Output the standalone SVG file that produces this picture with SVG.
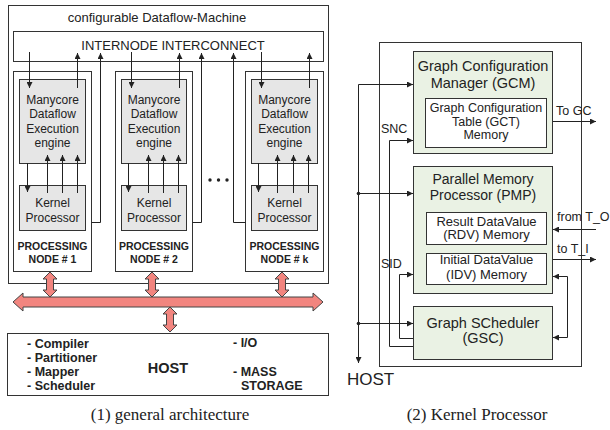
<svg xmlns="http://www.w3.org/2000/svg" width="610" height="430" viewBox="0 0 610 430">
<defs>
<style>
text { font-family: "Liberation Sans", Arial, sans-serif; fill: #222; }
.s12 { font-size: 12px; }
.s125 { font-size: 12.5px; }
.s13 { font-size: 13px; }
.s145 { font-size: 14.5px; }
.b { font-weight: bold; }
.m { text-anchor: middle; }
.cap { font-family: "Liberation Serif", "Times New Roman", serif; font-size: 17px; }
.ln { stroke: #222; stroke-width: 1; fill: none; }
.arr { marker-end: url(#ah); }
.box { fill: #fff; stroke: #333; stroke-width: 1; }
.grey { fill: #e6e6e6; stroke: #333; stroke-width: 1; }
.green { fill: #eaf2e4; stroke: #333; stroke-width: 1; }
.red { fill: #f2857f; stroke: #444; stroke-width: 1; }
</style>
<marker id="ah" viewBox="0 0 6 6" refX="6" refY="3" markerWidth="6" markerHeight="6" markerUnits="userSpaceOnUse" orient="auto-start-reverse">
<path d="M0,0 L6,3 L0,6 Z" fill="#222"/>
</marker>
<path id="vda" d="M0,0 L7,7 L3.5,7 L3.5,18 L7,18 L0,25 L-7,18 L-3.5,18 L-3.5,7 L-7,7 Z"/>
</defs>

<!-- ===== (1) general architecture ===== -->
<g id="machine">
<rect class="box" x="8.5" y="5.5" width="320" height="278"/>
<text class="s13 m" x="157" y="22">configurable Dataflow-Machine</text>
</g>
<g id="interconnect">
<rect class="box" x="13.5" y="31.5" width="310" height="30"/>
<text class="s13 m" x="173" y="50">INTERNODE INTERCONNECT</text>
</g>

<g id="node1">
<rect class="box" x="13.5" y="71.5" width="78" height="200"/>
<rect class="grey" x="19.5" y="79.5" width="66" height="84"/>
<text class="s12 m" x="52.5" y="104">Manycore</text>
<text class="s12 m" x="52.5" y="118.3">Dataflow</text>
<text class="s12 m" x="52.5" y="132.6">Execution</text>
<text class="s12 m" x="52.5" y="147">engine</text>
<rect class="grey" x="19.5" y="185.5" width="66" height="45"/>
<text class="s12 m" x="52.5" y="207">Kernel</text>
<text class="s12 m" x="52.5" y="222">Processor</text>
<text class="b m" style="font-size:10.5px" x="52.5" y="250">PROCESSING</text>
<text class="b m" style="font-size:10.5px" x="52.5" y="263">NODE # 1</text>
</g>

<g id="node2">
<rect class="box" x="115.5" y="71.5" width="77" height="200"/>
<rect class="grey" x="121.5" y="79.5" width="65" height="84"/>
<text class="s12 m" x="154" y="104">Manycore</text>
<text class="s12 m" x="154" y="118.3">Dataflow</text>
<text class="s12 m" x="154" y="132.6">Execution</text>
<text class="s12 m" x="154" y="147">engine</text>
<rect class="grey" x="121.5" y="185.5" width="65" height="45"/>
<text class="s12 m" x="154" y="207">Kernel</text>
<text class="s12 m" x="154" y="222">Processor</text>
<text class="b m" style="font-size:10.5px" x="154" y="250">PROCESSING</text>
<text class="b m" style="font-size:10.5px" x="154" y="263">NODE # 2</text>
</g>

<g id="ellipsis">
<circle cx="210" cy="180" r="1.7" fill="#222"/>
<circle cx="218.5" cy="180" r="1.7" fill="#222"/>
<circle cx="227" cy="180" r="1.7" fill="#222"/>
</g>

<g id="nodek">
<rect class="box" x="245.5" y="71.5" width="78" height="200"/>
<rect class="grey" x="251.5" y="79.5" width="66" height="84"/>
<text class="s12 m" x="284.5" y="104">Manycore</text>
<text class="s12 m" x="284.5" y="118.3">Dataflow</text>
<text class="s12 m" x="284.5" y="132.6">Execution</text>
<text class="s12 m" x="284.5" y="147">engine</text>
<rect class="grey" x="251.5" y="185.5" width="66" height="45"/>
<text class="s12 m" x="284.5" y="207">Kernel</text>
<text class="s12 m" x="284.5" y="222">Processor</text>
<text class="b m" style="font-size:10.5px" x="284.5" y="250">PROCESSING</text>
<text class="b m" style="font-size:10.5px" x="284.5" y="263">NODE # k</text>
</g>

<g id="bus">
<path class="red" d="M13,302 L23,293 L23,297 L313,297 L313,293 L323,302 L313,311 L313,307 L23,307 L23,311 Z"/>
<use href="#vda" class="red" x="50" y="272"/>
<use href="#vda" class="red" x="152" y="272"/>
<use href="#vda" class="red" x="282" y="272"/>
<use href="#vda" class="red" x="170" y="307"/>
</g>

<g id="host">
<rect class="box" x="7.5" y="333.5" width="321" height="62"/>
<text class="s125 b" x="27" y="348">- Compiler</text>
<text class="s125 b" x="27" y="362">- Partitioner</text>
<text class="s125 b" x="27" y="376">- Mapper</text>
<text class="s125 b" x="27" y="390">- Scheduler</text>
<text class="b m" style="font-size:14.5px" x="168" y="373">HOST</text>
<text class="s125 b" x="233" y="347">- I/O</text>
<text class="s125 b" x="233" y="376">- MASS</text>
<text class="s125 b" x="241" y="389.5">STORAGE</text>
</g>

<g id="connectors-left">
<!-- node 1 -->
<line class="ln arr" x1="29.5" y1="52" x2="29.5" y2="88"/>
<line class="ln arr" x1="77.5" y1="88" x2="77.5" y2="53"/>
<path class="ln arr" d="M91.5,222.5 H100.5 V53"/>
<line class="ln arr" x1="27.5" y1="163" x2="27.5" y2="192"/>
<line class="ln arr" x1="47.5" y1="193" x2="47.5" y2="155"/>
<line class="ln arr" x1="62.5" y1="193" x2="62.5" y2="155"/>
<line class="ln arr" x1="77.5" y1="193" x2="77.5" y2="155"/>
<!-- node 2 -->
<line class="ln arr" x1="131.5" y1="52" x2="131.5" y2="88"/>
<line class="ln arr" x1="179.5" y1="88" x2="179.5" y2="53"/>
<path class="ln arr" d="M192.5,222.5 H201.5 V53"/>
<line class="ln arr" x1="128.5" y1="163" x2="128.5" y2="192"/>
<line class="ln arr" x1="148.5" y1="193" x2="148.5" y2="155"/>
<line class="ln arr" x1="163.5" y1="193" x2="163.5" y2="155"/>
<line class="ln arr" x1="178.5" y1="193" x2="178.5" y2="155"/>
<!-- node k -->
<line class="ln arr" x1="261.5" y1="52" x2="261.5" y2="88"/>
<line class="ln arr" x1="309.5" y1="88" x2="309.5" y2="53"/>
<path class="ln arr" d="M245.5,222.5 H233.5 V53"/>
<line class="ln arr" x1="258.5" y1="163" x2="258.5" y2="192"/>
<line class="ln arr" x1="277.5" y1="193" x2="277.5" y2="155"/>
<line class="ln arr" x1="293.5" y1="193" x2="293.5" y2="155"/>
<line class="ln arr" x1="308.5" y1="193" x2="308.5" y2="155"/>
</g>

<text class="cap m" x="170" y="420">(1) general architecture</text>

<!-- ===== (2) Kernel Processor ===== -->
<g id="kp-frame">
<rect class="box" x="379.5" y="42.5" width="202" height="324"/>
</g>

<g id="gcm">
<rect class="green" x="413.5" y="51.5" width="139" height="102"/>
<text class="s145 m" x="483" y="71">Graph Configuration</text>
<text class="s145 m" x="483" y="88">Manager (GCM)</text>
<rect class="box" x="425.5" y="98.5" width="121" height="49"/>
<text class="s125 m" x="486" y="112">Graph Configuration</text>
<text class="s125 m" x="486" y="125.5">Table (GCT)</text>
<text class="s125 m" x="486" y="139">Memory</text>
</g>

<g id="pmp">
<rect class="green" x="413.5" y="166.5" width="139" height="127"/>
<text class="m" style="font-size:14px" x="483" y="183.5">Parallel Memory</text>
<text class="m" style="font-size:14px" x="483" y="200">Processor (PMP)</text>
<rect class="box" x="426.5" y="212.5" width="120" height="32"/>
<text class="s13 m" x="486.5" y="225.5">Result DataValue</text>
<text class="s13 m" x="486.5" y="239">(RDV) Memory</text>
<rect class="box" x="426.5" y="253.5" width="120" height="31"/>
<text class="s13 m" x="486.5" y="264">Initial DataValue</text>
<text class="s13 m" x="486.5" y="278.5">(IDV) Memory</text>
</g>

<g id="gsc">
<rect class="green" x="413.5" y="306.5" width="139" height="53"/>
<text class="s145 m" x="483" y="328">Graph SCheduler</text>
<text class="s145 m" x="483" y="343">(GSC)</text>
</g>

<g id="connectors-right">
<line class="ln arr" x1="358.5" y1="84.5" x2="358.5" y2="363"/>
<line class="ln arr" x1="358.5" y1="84.5" x2="413" y2="84.5"/>
<line class="ln arr" x1="358.5" y1="193.5" x2="413" y2="193.5"/>
<line class="ln arr" x1="358.5" y1="323.5" x2="413" y2="323.5"/>
<circle cx="358.5" cy="193.5" r="1.8" fill="#222"/>
<circle cx="358.5" cy="323.5" r="1.8" fill="#222"/>
<path class="ln arr" d="M413,346.5 H389.5 V140.5 H413"/>
<path class="ln arr" d="M413,338.5 H399.5 V274.5 H413"/>
<line class="ln arr" x1="553" y1="121.5" x2="596" y2="121.5"/>
<line class="ln arr" x1="596" y1="229.5" x2="553" y2="229.5"/>
<line class="ln arr" x1="553" y1="259.5" x2="596" y2="259.5"/>
<path class="ln" d="M553,276.5 H567.5 V337.5 H553" marker-start="url(#ah)" marker-end="url(#ah)"/>
</g>

<g id="kp-labels">
<text class="s125" x="556" y="115">To GC</text>
<text class="s125" x="381" y="133">SNC</text>
<text class="s125" x="557" y="221">from T_O</text>
<text class="s125" x="557" y="253">to T_I</text>
<text class="s125" x="381" y="268">SID</text>
<text style="font-size:17px" x="347" y="385">HOST</text>
</g>

<text class="cap m" x="477" y="420">(2) Kernel Processor</text>
</svg>
